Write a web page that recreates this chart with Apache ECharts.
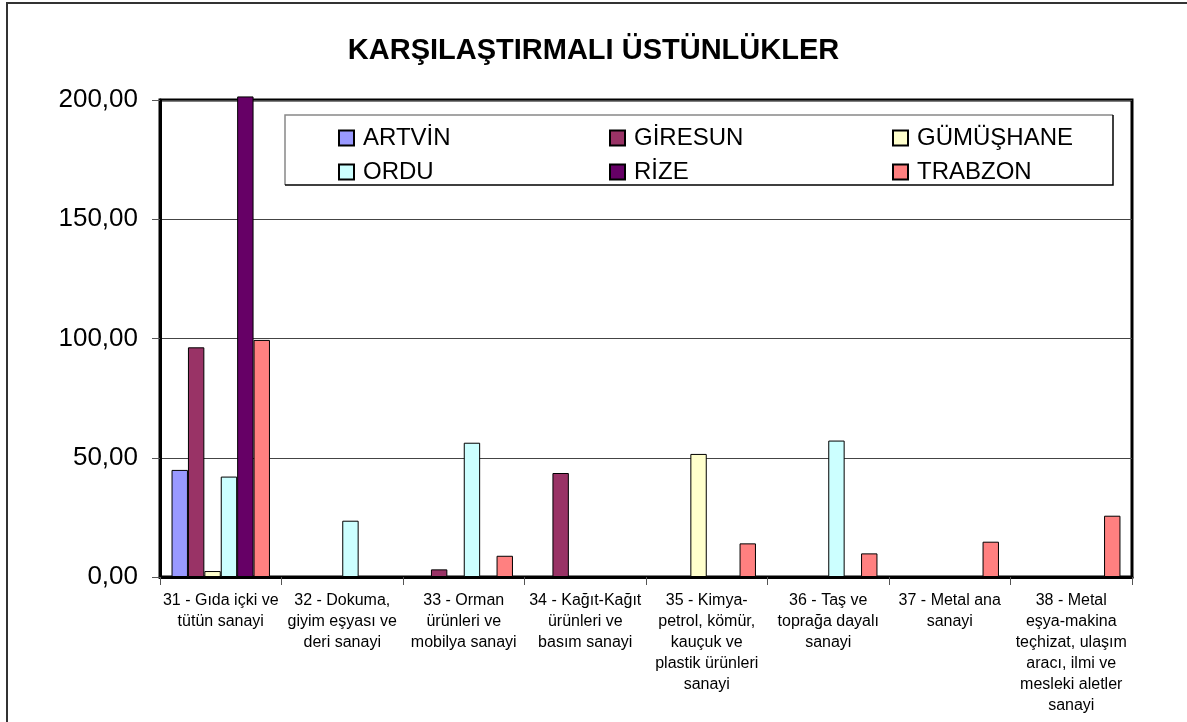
<!DOCTYPE html>
<html>
<head>
<meta charset="utf-8">
<script src="https://cdn.jsdelivr.net/npm/echarts@6/dist/echarts.min.js"></script>
<style>
  html, body { margin: 0; padding: 0; background: #fff; }
  #chart { width: 1187px; height: 722px; }
</style>
</head>
<body>
<div id="chart"></div>
<script>
// ── Data ──
var categories = [
  '31 - Gıda içki ve\ntütün sanayi',
  '32 - Dokuma,\ngiyim eşyası ve\nderi sanayi',
  '33 - Orman\nürünleri ve\nmobilya sanayi',
  '34 - Kağıt-Kağıt\nürünleri ve\nbasım sanayi',
  '35 - Kimya-\npetrol, kömür,\nkauçuk ve\nplastik ürünleri\nsanayi',
  '36 - Taş ve\ntoprağa dayalı\nsanayi',
  '37 - Metal ana\nsanayi',
  '38 - Metal\neşya-makina\nteçhizat, ulaşım\naracı, ilmi ve\nmesleki aletler\nsanayi'
];
var artvin    = [44.9, 0, 0, 0, 0, 0, 0, 0];
var giresun   = [96.3, 0, 3.2, 43.6, 0, 0, 0, 0];
var gumushane = [2.5, 0, 0, 0, 51.6, 0, 0, 0];
var ordu      = [42.1, 23.6, 56.3, 0, 0, 57.2, 0, 0];
var rize      = [201.5, 0, 0, 0, 0, 0, 0, 0];
var trabzon   = [99.4, 0, 8.9, 0, 14.1, 9.9, 14.8, 25.7];
var yTickLabels = ['0,00', '50,00', '100,00', '150,00', '200,00'];

var seriesDefs = [
  { name: 'ARTVİN', data: artvin, color: '#9999ff' },
  { name: 'GİRESUN', data: giresun, color: '#993366' },
  { name: 'GÜMÜŞHANE', data: gumushane, color: '#ffffcc' },
  { name: 'ORDU', data: ordu, color: '#ccffff' },
  { name: 'RİZE', data: rize, color: '#660066' },
  { name: 'TRABZON', data: trabzon, color: '#ff8080' }
];

var chart = echarts.init(document.getElementById('chart'));
var FONT = '"Liberation Sans", Arial, sans-serif';

function legendCol(left, names) {
  return {
    orient: 'vertical',
    left: left,
    top: 121,
    icon: 'rect',
    itemWidth: 15,
    itemHeight: 15,
    itemGap: 10,
    selectedMode: false,
    data: names,
    textStyle: { fontFamily: FONT, fontSize: 24, color: '#000', lineHeight: 23, padding: [0, 0, 0, 4] }
  };
}

chart.setOption({
  animation: false,
  title: {
    text: 'KARŞILAŞTIRMALI ÜSTÜNLÜKLER',
    left: 'center',
    top: 31,
    textStyle: { fontFamily: FONT, fontSize: 29, fontWeight: 'bold', color: '#000' }
  },
  legend: [
    legendCol(333, ['ARTVİN', 'ORDU']),
    legendCol(604, ['GİRESUN', 'RİZE']),
    legendCol(887, ['GÜMÜŞHANE', 'TRABZON'])
  ],
  grid: {
    left: 160, right: 55, top: 100, bottom: 145,
    show: true, borderColor: '#000', borderWidth: 3, backgroundColor: 'transparent'
  },
  xAxis: {
    type: 'category',
    data: categories,
    axisLine: { lineStyle: { color: '#000', width: 3 } },
    axisTick: { show: true, length: 8, lineStyle: { color: '#555', width: 1 } },
    axisLabel: {
      interval: 0, margin: 13, color: '#000',
      fontFamily: FONT, fontSize: 16, lineHeight: 21
    }
  },
  yAxis: {
    type: 'value',
    min: 0, max: 200, interval: 50,
    axisLine: { show: true, lineStyle: { color: '#000', width: 3 } },
    axisTick: { show: true, length: 8, lineStyle: { color: '#555', width: 1 } },
    splitLine: { lineStyle: { color: '#444', width: 1 } },
    axisLabel: {
      margin: 22, color: '#000', fontFamily: FONT, fontSize: 26,
      formatter: function (v) { return yTickLabels[Math.round(v / 50)]; }
    }
  },
  series: seriesDefs.map(function (s) {
    return {
      name: s.name,
      type: 'bar',
      data: s.data,
      clip: false,
      barGap: '0%',
      barCategoryGap: '19%',
      itemStyle: { color: s.color, borderColor: '#000', borderWidth: 1 }
    };
  }),
  graphic: [
    // outer chart frame
    { type: 'rect', shape: { x: 7, y: 3, width: 1200, height: 800 }, style: { fill: 'none', stroke: '#333', lineWidth: 2 }, silent: true },
    // legend box
    { type: 'polyline', shape: { points: [[285, 185], [285, 115], [1113, 115]] }, style: { fill: 'none', stroke: '#888', lineWidth: 1.5 }, silent: true },
    { type: 'polyline', shape: { points: [[285, 185], [1113, 185], [1113, 115]] }, style: { fill: 'none', stroke: '#000', lineWidth: 1.5 }, silent: true }
  ]
});
</script>
</body>
</html>
